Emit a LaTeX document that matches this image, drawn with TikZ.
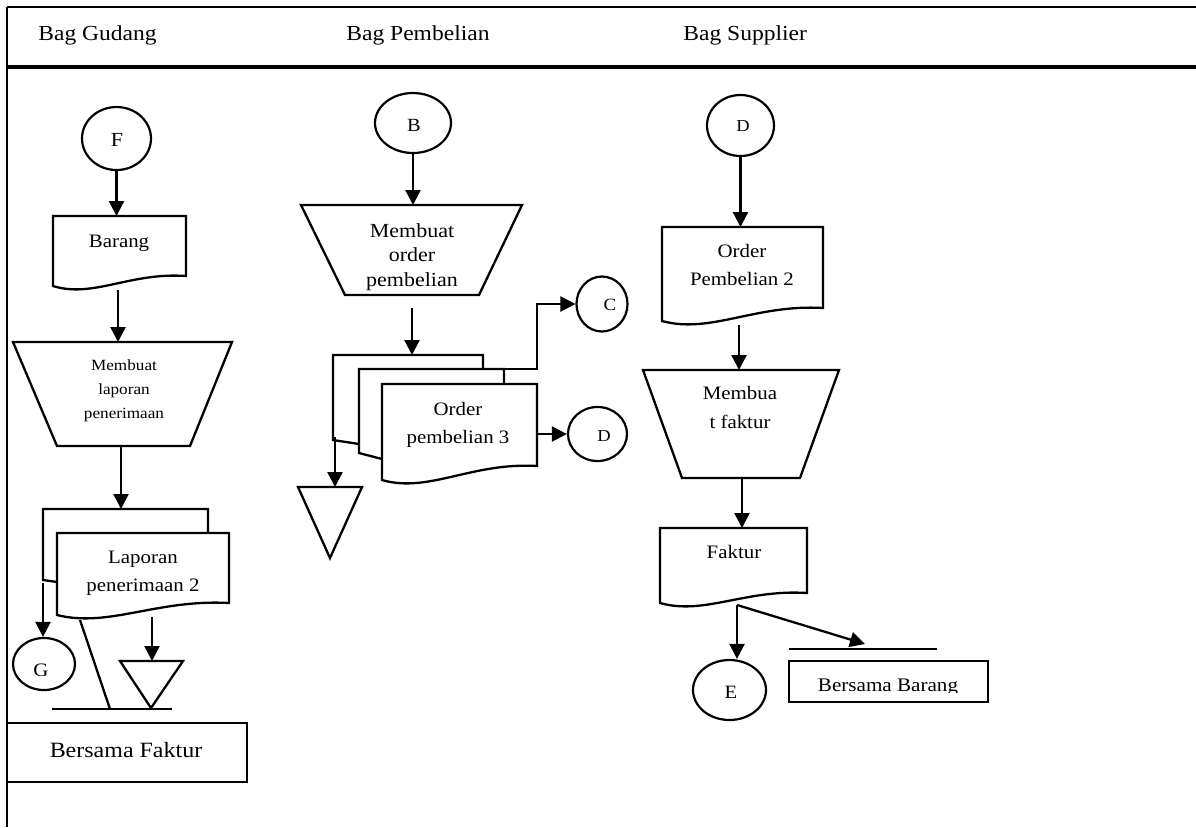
\documentclass[tikz,border=0pt]{standalone}
\usepackage{fontspec}
\setmainfont{Liberation Serif}[FakeStretch=1.1]
\usetikzlibrary{arrows.meta,shapes.geometric}
\newcommand\mlines[1]{\begin{tabular}[t]{@{}c@{}}#1\end{tabular}}
\newcommand\docshape[5]{%
  \draw[line] (#1,#2) -- (#3,#2) -- (#3,#4)
    .. controls ({#1+0.58*(#3-#1)},{#4-4}) and ({#1+0.3*(#3-#1)},{#5+10+0.25*(#5-#4)}) .. (#1,#5) -- cycle;}
\begin{document}
\begin{tikzpicture}[x=0.5pt,y=-0.5pt,
  line/.style={line width=1.15pt,line join=miter},
  arr/.style={line width=1.15pt,-{Triangle[length=7.5pt,width=7.5pt]}},
  conn/.style={ellipse,draw,line width=1.1pt,inner sep=0pt},
  txt/.style={inner sep=0pt,anchor=base},
  fhead/.style={font=\fontsize{10.7}{13}\selectfont},
  fdoc/.style={font=\fontsize{9.5}{14.2}\selectfont},
  ]
\useasboundingbox (0,0) rectangle (1196,827);
% frame
\draw[line width=1.1pt] (7,7) -- (1196,7);
\draw[line width=1.6pt] (7,67) -- (1196,67);
\draw[line width=1.1pt] (7,7) -- (7,827);
\node[txt,fhead,anchor=base west] (hg) at (38,40) {Bag Gudang};
\node[txt,fhead,anchor=base west] (hp) at (346,40) {Bag Pembelian};
\node[txt,fhead,anchor=base west] (hs) at (683,40) {Bag Supplier};

% ===== Bag Gudang =====
\node[conn,minimum width=34.5pt,minimum height=31.5pt] (F) at (116.5,138.5) {};
\node[txt,font=\fontsize{10}{12}\selectfont,anchor=center] (Ft) at (117,140) {F};
\coordinate (barangTop) at (116.5,216);
\draw[arr] (F.south) -- (barangTop);
\docshape{53}{216}{186}{276}{286}
\node[txt,fdoc] (barang) at (119,247) {Barang};
\coordinate (barangBot) at (118,290);
\coordinate (trapLTop) at (118,342);
\draw[arr] (barangBot) -- (trapLTop);
\draw[line] (13,342) -- (232,342) -- (190,446) -- (57,446) -- cycle;
\node[txt,font=\fontsize{7.8}{12}\selectfont] (trapL) at (124,370) {\mlines{Membuat\\laporan\\penerimaan}};
\coordinate (trapLBot) at (121,446);
\coordinate (lapTop) at (121,509);
\draw[arr] (trapLBot) -- (lapTop);
\draw[line] (57,582) -- (43,580) -- (43,509) -- (208,509) -- (208,533);
\docshape{57}{533}{229}{603}{615}
\node[txt,font=\fontsize{9.5}{14}\selectfont] (lap) at (143,563) {\mlines{Laporan\\penerimaan 2}};
\node[conn,minimum width=31pt,minimum height=26pt] (G) at (44,664) {};
\coordinate (lapG) at (43,583);
\draw[arr] (lapG) -- (lapG |- G.north);
\begin{scope}
  \clip (10,640) rectangle (80,675);
  \node[txt,font=\fontsize{9.5}{12}\selectfont] (Gt) at (41,676) {G};
\end{scope}
\coordinate (lapArch) at (152,617);
\coordinate (tri1Top) at (152,661);
\draw[arr] (lapArch) -- (tri1Top);
\draw[line] (120,661) -- (183,661) -- (151,708) -- cycle;
\coordinate (lapLine) at (80,620);
\coordinate (lapLineEnd) at (110,709);
\draw[line] (lapLine) -- (lapLineEnd);
\draw[line] (52,709) -- (172,709);
\draw[line] (7,723) rectangle (247,782);
\node[txt,font=\fontsize{10.9}{13}\selectfont] (bf) at (126,757) {Bersama Faktur};

% ===== Bag Pembelian =====
\node[conn,minimum width=38pt,minimum height=30pt] (B) at (413,123) {};
\node[txt,font=\fontsize{9.3}{10}\selectfont,anchor=center] (Bt) at (414,125) {B};
\coordinate (trapMTop) at (413,205);
\draw[arr] (B.south) -- (trapMTop);
\draw[line] (301,205) -- (522,205) -- (479,295) -- (345,295) -- cycle;
\node[txt,font=\fontsize{10}{12.3}\selectfont] (trapM) at (412,237) {\mlines{Membuat\\order\\pembelian}};
\coordinate (trapMBot) at (412,308);
\coordinate (opTop) at (412,355);
\draw[arr] (trapMBot) -- (opTop);
\draw[line] (359,444) -- (333,440) -- (333,355) -- (483,355) -- (483,369);
\draw[line] (382,459) -- (359,453) -- (359,369) -- (504,369) -- (504,384);
\docshape{382}{384}{537}{466}{480}
\node[txt,font=\fontsize{9.5}{14}\selectfont] (op3) at (458,415) {\mlines{Order\\pembelian 3}};
\coordinate (opLeft) at (335,437);
\coordinate (tri2Top) at (335,487);
\draw[arr] (opLeft) -- (tri2Top);
\draw[line] (298,487) -- (362,487) -- (330,558) -- cycle;
\node[conn,minimum width=25.5pt,minimum height=27.5pt] (C) at (602,304) {};
\node[txt,font=\fontsize{8.6}{10}\selectfont,anchor=center] (Ct) at (610,305) {C};
\coordinate (cStart) at (504,369);
\coordinate (cBend) at (537,369);
\draw[arr] (cStart) -- (cBend) -- (cBend |- C.west) -- (C.west);
\node[conn,minimum width=29.5pt,minimum height=27pt] (D1) at (597.5,434) {};
\node[txt,font=\fontsize{8.4}{10}\selectfont,anchor=center] (D1t) at (604,436) {D};
\coordinate (dStart) at (537,434);
\draw[arr] (dStart) -- (D1.west);

% ===== Bag Supplier =====
\node[conn,minimum width=33.5pt,minimum height=30.5pt] (D2) at (740.5,125.5) {};
\node[txt,font=\fontsize{8.4}{10}\selectfont,anchor=center] (D2t) at (743,126) {D};
\coordinate (op2Top) at (740.5,227);
\draw[arr] (D2.south) -- (op2Top);
\docshape{662}{227}{823}{308}{321}
\node[txt,font=\fontsize{9.5}{14}\selectfont] (op2) at (742,257) {\mlines{Order\\Pembelian 2}};
\coordinate (op2Bot) at (739,325);
\coordinate (trapRTop) at (739,370);
\draw[arr] (op2Bot) -- (trapRTop);
\draw[line] (643,370) -- (839,370) -- (800,478) -- (682,478) -- cycle;
\node[txt,font=\fontsize{9.5}{14.5}\selectfont] (trapR) at (740,399) {\mlines{Membua\\t faktur}};
\coordinate (trapRBot) at (742,478);
\coordinate (fakTop) at (742,528);
\draw[arr] (trapRBot) -- (fakTop);
\docshape{660}{528}{807}{593}{603}
\node[txt,fdoc] (fak) at (734,558) {Faktur};
\node[conn,minimum width=36.5pt,minimum height=30pt] (E) at (729.5,690) {};
\node[txt,font=\fontsize{9.4}{11}\selectfont,anchor=center] (Et) at (731,692) {E};
\coordinate (fakBot) at (737,605);
\draw[arr] (fakBot) -- (fakBot |- E.north);
\coordinate (bbArrow) at (865,644);
\draw[arr] (fakBot) -- (bbArrow);
\draw[line] (789,649) -- (937,649);
\draw[line] (789,661) rectangle (988,702);
\begin{scope}
  \clip (789,661) rectangle (988,692);
  \node[txt,font=\fontsize{9.6}{12}\selectfont] (bb) at (888,691) {Bersama Barang};
\end{scope}
\end{tikzpicture}
\end{document}
